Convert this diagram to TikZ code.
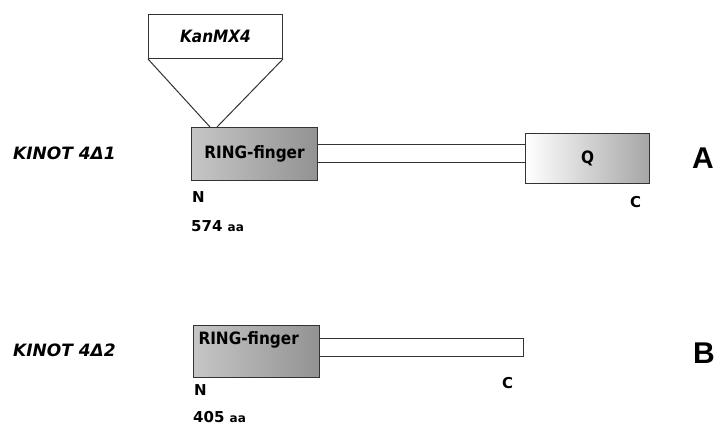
\documentclass[tikz,border=0pt]{standalone}
\usepackage{fontspec}
\setmainfont{Liberation Sans}
\newfontfamily\condfont{DejaVu Sans Condensed}
\newfontfamily\widefont{DejaVu Sans}
\begin{document}
\begin{tikzpicture}[x=1pt,y=-1pt,
  ring/.style={draw=black!80,line width=1pt,left color=gray!45,right color=gray!85,anchor=north west,inner sep=0pt},
  qbox/.style={draw=black!80,line width=1pt,left color=white,right color=gray!70,anchor=north west,inner sep=0pt},
  boxtxt/.style={font=\condfont\bfseries\fontsize{17}{17}\selectfont},
  lbl/.style={font=\widefont\bfseries\fontsize{15}{15}\selectfont,anchor=west,inner sep=0pt},
  side/.style={font=\widefont\bfseries\itshape\fontsize{17}{17}\selectfont,anchor=west,inner sep=0pt},
  big/.style={font=\bfseries\fontsize{30}{30}\selectfont,anchor=west,inner sep=0pt},
  ln/.style={draw=black!80,line width=1pt}]
\useasboundingbox (0,0) rectangle (719,426);
% A
\node[draw=black!80,line width=1pt,fill=white,anchor=north west,minimum width=134pt,minimum height=44pt,inner sep=0pt,font=\condfont\bfseries\itshape\fontsize{17}{17}\selectfont] (kan) at (148,14) {KanMX4};
\coordinate (t1) at (210,127);
\coordinate (t2) at (217,127);
\draw[ln] (kan.south west) -- (t1);
\draw[ln] (kan.south east) -- (t2);
\node[ring,minimum width=126pt,minimum height=53pt] (r1) at (191,127) {};
\node[boxtxt] at (r1.center) {RING-finger};
\node[qbox,minimum width=124pt,minimum height=50pt] (q) at (525,133) {};
\node[boxtxt] at (q.center) {Q};
\draw[ln] (r1.east |- 0,144) coordinate (l1a) -- (q.west |- 0,144);
\draw[ln] (r1.east |- 0,162) coordinate (l2a) -- (q.west |- 0,162);
\node[side] (k1) at (13,153) {KINOT 4Δ1};
\node[lbl] (n1) at (192,197) {N};
\node[lbl] (aa1) at (191,226) {574 {\fontsize{12}{12}\selectfont aa}};
\node[lbl] (c1) at (630,202) {C};
\node[big] (a) at (692,158) {A};
% B
\node[draw=black!80,line width=1pt,fill=white,anchor=north west,minimum width=204pt,minimum height=18pt,inner sep=0pt] (bar) at (319,338) {};
\node[ring,minimum width=126pt,minimum height=52pt] (r2) at (193,325) {};
\node[boxtxt,anchor=north west] at ([xshift=2pt,yshift=-3pt]r2.north west) {RING-finger};
\node[side] (k2) at (13,350) {KINOT 4Δ2};
\node[lbl] (n2) at (194,390) {N};
\node[lbl] (aa2) at (193,417) {405 {\fontsize{12}{12}\selectfont aa}};
\node[lbl] (c2) at (502,383) {C};
\node[big] (b) at (693,353) {B};
\end{tikzpicture}
\end{document}
